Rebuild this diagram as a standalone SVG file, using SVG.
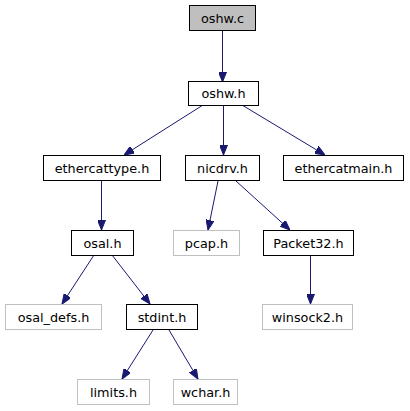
<svg xmlns="http://www.w3.org/2000/svg" width="410" height="411" viewBox="0 0 410 411">
<style>
.n rect{fill:#fff;stroke:#000;stroke-width:1}
.g rect{fill:#fff;stroke:#bfbfbf;stroke-width:1}
text{font-family:"DejaVu Sans",sans-serif;font-size:12.8px;fill:#000;text-anchor:middle}
.e path{fill:none;stroke:#191970;stroke-width:1}
</style>
<defs>
<marker id="a" viewBox="0 0 10 8" refX="10" refY="4" markerWidth="10" markerHeight="8" markerUnits="userSpaceOnUse" orient="auto">
<path d="M0,0L10,4L0,8Z" fill="#191970" stroke="#191970"/>
</marker>
</defs>
<g class="e" id="edges">
<path d="M222.5,31V82" marker-end="url(#a)"/>
<path d="M203,105L124,155" marker-end="url(#a)"/>
<path d="M223.5,105V155" marker-end="url(#a)"/>
<path d="M242,105L325,155" marker-end="url(#a)"/>
<path d="M101.5,181V230" marker-end="url(#a)"/>
<path d="M218,181L208,230" marker-end="url(#a)"/>
<path d="M236,181L290,230" marker-end="url(#a)"/>
<path d="M94,255L62,304" marker-end="url(#a)"/>
<path d="M112,255L150,304" marker-end="url(#a)"/>
<path d="M310.5,255V304" marker-end="url(#a)"/>
<path d="M153,330L122,379" marker-end="url(#a)"/>
<path d="M169,330L198,379" marker-end="url(#a)"/>
</g>
<g id="oshw_c" class="n"><rect x="189.5" y="5.5" width="66" height="25" style="fill:#bfbfbf"/><text x="222.5" y="22.5">oshw.c</text></g>
<g id="oshw_h" class="n"><rect x="188.5" y="81.5" width="70" height="24"/><text x="223.5" y="98">oshw.h</text></g>
<g id="ethercattype_h" class="n"><rect x="43.5" y="155.5" width="117" height="25"/><text x="102" y="172.5">ethercattype.h</text></g>
<g id="nicdrv_h" class="n"><rect x="185.5" y="155.5" width="74" height="25"/><text x="222.5" y="172.5">nicdrv.h</text></g>
<g id="ethercatmain_h" class="n"><rect x="283.5" y="155.5" width="120" height="25"/><text x="343.5" y="172.5">ethercatmain.h</text></g>
<g id="osal_h" class="n"><rect x="71.5" y="230.5" width="62" height="25"/><text x="102.5" y="247.5">osal.h</text></g>
<g id="pcap_h" class="g"><rect x="173.5" y="230.5" width="66" height="25"/><text x="206.5" y="247.5">pcap.h</text></g>
<g id="Packet32_h" class="n"><rect x="263.5" y="230.5" width="90" height="25"/><text x="308.5" y="247.5">Packet32.h</text></g>
<g id="osal_defs_h" class="g"><rect x="5.5" y="304.5" width="96" height="25"/><text x="53.5" y="321.5">osal_defs.h</text></g>
<g id="stdint_h" class="n"><rect x="126.5" y="304.5" width="71" height="25"/><text x="162" y="321.5">stdint.h</text></g>
<g id="winsock2_h" class="g"><rect x="262.5" y="304.5" width="90" height="25"/><text x="307.5" y="321.5">winsock2.h</text></g>
<g id="limits_h" class="g"><rect x="77.5" y="379.5" width="72" height="25"/><text x="113.5" y="396.5">limits.h</text></g>
<g id="wchar_h" class="g"><rect x="173.5" y="379.5" width="64" height="25"/><text x="205.5" y="396.5">wchar.h</text></g>
</svg>
